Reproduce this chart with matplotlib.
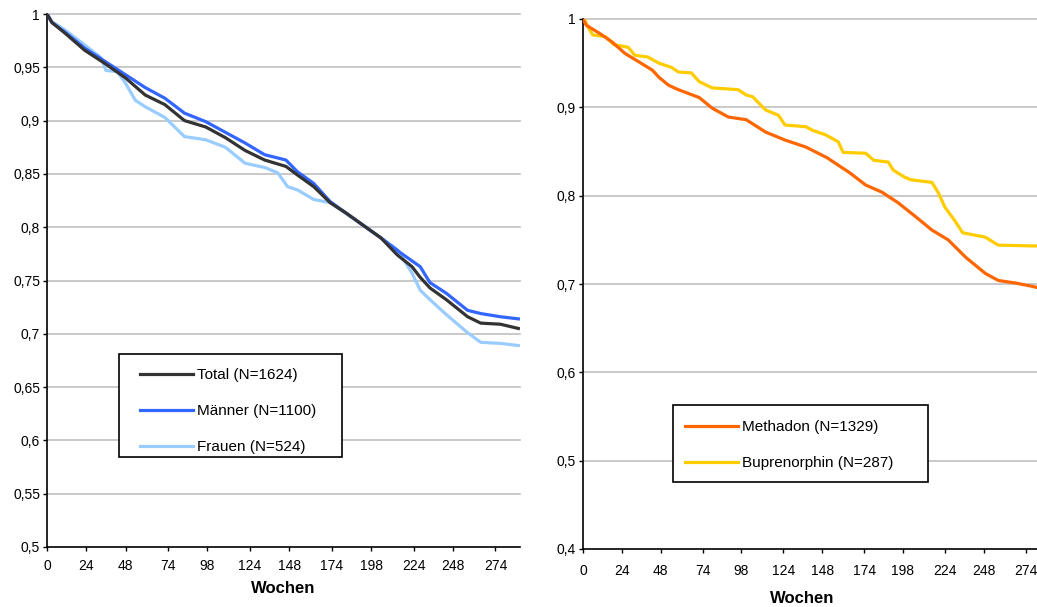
import matplotlib
matplotlib.use("Agg")
from matplotlib import pyplot as plt
from matplotlib.patches import Rectangle

plt.rcParams['font.family'] = ['Liberation Sans', 'DejaVu Sans']

# x tick labels (weeks)
week_ticks = [0, 24, 48, 74, 98, 124, 148, 174, 198, 224, 248, 274]

# left panel: by sex
total_weeks = [0, 3, 11, 23, 35, 48, 60, 72, 84, 97, 109, 121, 133, 146, 153, 163, 173, 183,
               193, 204, 214, 223, 228, 234, 244, 257, 265, 277, 288]
total_vals = [1.0, 0.992, 0.982, 0.966, 0.954, 0.940, 0.924, 0.915, 0.900, 0.894, 0.884, 0.872,
              0.863, 0.857, 0.849, 0.838, 0.823, 0.813, 0.802, 0.790, 0.774, 0.763, 0.753, 0.743,
              0.732, 0.716, 0.710, 0.709, 0.705]

maenner_weeks = [0, 3, 11, 23, 35, 48, 60, 72, 84, 97, 109, 121, 133, 146, 153, 163, 173, 183,
                 193, 204, 216, 228, 234, 244, 257, 265, 277, 288]
maenner_vals = [1.0, 0.992, 0.983, 0.968, 0.956, 0.943, 0.931, 0.921, 0.907, 0.899, 0.889, 0.879,
                0.868, 0.863, 0.852, 0.841, 0.824, 0.813, 0.802, 0.790, 0.776, 0.763, 0.748,
                0.738, 0.722, 0.719, 0.716, 0.714]

frauen_weeks = [0, 3, 11, 23, 33, 36, 43, 48, 54, 60, 72, 80, 84, 97, 109, 121, 133, 141, 147,
                153, 163, 173, 193, 204, 214, 223, 228, 234, 244, 257, 265, 277, 288]
frauen_vals = [1.0, 0.993, 0.985, 0.971, 0.959, 0.947, 0.946, 0.935, 0.919, 0.913, 0.903, 0.891,
               0.885, 0.882, 0.875, 0.860, 0.856, 0.851, 0.838, 0.835, 0.826, 0.823, 0.802, 0.790,
               0.779, 0.757, 0.741, 0.732, 0.718, 0.701, 0.692, 0.691, 0.689]

# right panel: by substitution drug
methadon_weeks = [0, 2, 10, 18, 26, 35, 43, 47, 53, 59, 72, 80, 90, 101, 113, 125, 138, 151,
                  165, 175, 185, 195, 206, 216, 226, 237, 249, 257, 268, 279, 281]
methadon_vals = [1.0, 0.993, 0.984, 0.974, 0.961, 0.951, 0.942, 0.934, 0.925, 0.920, 0.911,
                 0.899, 0.889, 0.886, 0.872, 0.863, 0.855, 0.843, 0.826, 0.812, 0.804, 0.792,
                 0.776, 0.761, 0.750, 0.730, 0.712, 0.704, 0.701, 0.697, 0.696]

bupre_weeks = [0, 1, 4, 6, 14, 19, 28, 32, 40, 47, 55, 59, 67, 72, 80, 96, 101, 105, 113, 121,
               125, 138, 142, 150, 158, 161, 175, 180, 189, 192, 199, 203, 216, 220, 224, 230,
               235, 249, 257, 281]
bupre_vals = [1.0, 0.999, 0.988, 0.982, 0.980, 0.971, 0.968, 0.959, 0.957, 0.950, 0.945, 0.940,
              0.939, 0.929, 0.922, 0.920, 0.914, 0.912, 0.897, 0.891, 0.880, 0.878, 0.874, 0.869,
              0.861, 0.849, 0.848, 0.840, 0.838, 0.829, 0.821, 0.818, 0.815, 0.803, 0.787, 0.772,
              0.758, 0.753, 0.744, 0.743]

left_yticks = [0.5, 0.55, 0.6, 0.65, 0.7, 0.75, 0.8, 0.85, 0.9, 0.95, 1.0]
left_ylabels = ['0,5', '0,55', '0,6', '0,65', '0,7', '0,75', '0,8', '0,85', '0,9', '0,95', '1']
right_yticks = [0.4, 0.5, 0.6, 0.7, 0.8, 0.9, 1.0]
right_ylabels = ['0,4', '0,5', '0,6', '0,7', '0,8', '0,9', '1']

LW = 2.3
GRIDCOLOR = '#c0c0c0'

fig = plt.figure(figsize=(10.37, 6.07), dpi=100)
ax1 = fig.add_axes([47 / 1037, 1 - 547 / 607, 473 / 1037, 533 / 607])
ax2 = fig.add_axes([583 / 1037, 1 - 549 / 607, 454 / 1037, 530 / 607])


def style_axis(ax, yticks, ylabels, xmax):
    ax.set_xlim(0, xmax)
    ax.set_ylim(yticks[0], yticks[-1])
    ax.set_yticks(yticks)
    ax.set_yticklabels(ylabels, fontsize=10)
    ax.set_xticks(week_ticks)
    ax.set_xticklabels([str(w) for w in week_ticks], fontsize=10)
    for y in yticks[1:]:
        ax.axhline(y, color=GRIDCOLOR, lw=1.2, zorder=0, clip_on=False)
    for s in ['top', 'right']:
        ax.spines[s].set_visible(False)
    for s in ['left', 'bottom']:
        ax.spines[s].set_linewidth(1.2)
    ax.tick_params(axis='y', length=3, width=1, pad=2)
    ax.tick_params(axis='x', length=3, width=1, pad=6)
    ax.set_xlabel('Wochen', fontsize=12, fontweight='bold')


def boxed_legend(ax, box, anchor, spacing):
    # frame drawn separately so the entries can sit where the original has them
    ax.add_patch(Rectangle(box[:2], box[2], box[3], transform=ax.transAxes, facecolor='white',
                           edgecolor='black', lw=1.2, zorder=5, clip_on=False))
    leg = ax.legend(loc='upper left', bbox_to_anchor=anchor, borderaxespad=0, borderpad=0,
                    fontsize=11, handlelength=3.45, handletextpad=0.26, labelspacing=spacing,
                    frameon=False)
    leg.set_zorder(6)


style_axis(ax1, left_yticks, left_ylabels, 289)
ax1.plot(total_weeks, total_vals, color='#333333', lw=LW, label='Total (N=1624)', zorder=4)
ax1.plot(maenner_weeks, maenner_vals, color='#3366ff', lw=LW, label='Männer (N=1100)', zorder=3)
ax1.plot(frauen_weeks, frauen_vals, color='#99ccff', lw=LW, label='Frauen (N=524)', zorder=2)
ax1.xaxis.set_label_coords(0.5, -0.064)
boxed_legend(ax1, (0.152, 0.169, 0.472, 0.193), (0.1966, 0.3358), 1.44)

style_axis(ax2, right_yticks, right_ylabels, 281)
ax2.plot(methadon_weeks, methadon_vals, color='#ff6600', lw=LW, label='Methadon (N=1329)', zorder=3)
ax2.plot(bupre_weeks, bupre_vals, color='#ffcc00', lw=LW, label='Buprenorphin (N=287)', zorder=2)
ax2.tick_params(axis='x', pad=8)
ax2.xaxis.set_label_coords((802 - 583) / 454, -0.079)
boxed_legend(ax2, (0.198, 0.1264, 0.562, 0.1453), (0.2247, 0.2434), 1.47)

fig.savefig('out.png', dpi=100)
